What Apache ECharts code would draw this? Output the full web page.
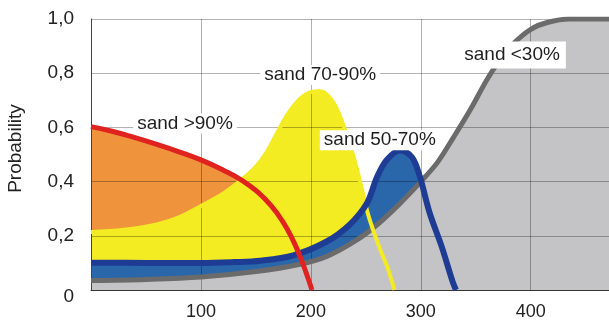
<!DOCTYPE html>
<html>
<head>
<meta charset="utf-8">
<script src="https://cdn.jsdelivr.net/npm/echarts@6/dist/echarts.min.js"></script>
<style>
  html, body { margin: 0; padding: 0; background: #ffffff; overflow: hidden; }
  #chart { width: 609px; height: 325px; }
</style>
</head>
<body>
<div id="chart"></div>
<script>
// ---- data (x = distance, y = probability) ----
const sandOver90 = [[0,0.603],[20,0.585],[40,0.562],[60,0.537],[80,0.51],[100,0.48],[120,0.443],[138,0.403],[152,0.36],[164,0.31],[174,0.255],[183,0.19],[190,0.125],[196,0.06],[201,0]];
const sand70to90 = [[0,0.214],[30,0.222],[60,0.242],[80,0.268],[100,0.31],[120,0.355],[138,0.41],[150,0.455],[160,0.51],[170,0.585],[180,0.655],[190,0.705],[200,0.73],[208,0.733],[216,0.715],[224,0.665],[232,0.58],[240,0.475],[246,0.38],[252,0.28],[258,0.205],[264,0.14],[270,0.08],[276,0]];
const sand50to70 = [[0,0.101],[50,0.10],[100,0.10],[130,0.103],[154,0.108],[184,0.128],[214,0.178],[235,0.24],[251,0.32],[260,0.415],[269,0.48],[281,0.515],[292,0.49],[299,0.42],[308,0.285],[319,0.16],[329,0.03],[332,0]];
const sandUnder30 = [[0,0.035],[50,0.039],[100,0.048],[150,0.068],[190,0.095],[215,0.125],[240,0.18],[260,0.24],[280,0.315],[300,0.40],[315,0.47],[330,0.565],[345,0.665],[360,0.775],[372,0.85],[385,0.912],[400,0.962],[415,0.987],[435,1.0],[473,1.0]];

const labelTexts = ['sand >90%', 'sand 70-90%', 'sand 50-70%', 'sand <30%'];
const labelAnchors = [[85.5,0.614],[208.5,0.793],[262.7,0.553],[383,0.867]];

const xTickValues = [100, 200, 300, 400];
const yAxisTitle = 'Probability';

// ---- chart ----
const FONT = '"Liberation Sans", Arial, sans-serif';
const chart = echarts.init(document.getElementById('chart'), null, { renderer: 'canvas' });

function fill(data, color, z, sm) {
  return { type: 'line', data, smooth: sm, showSymbol: false, silent: true, z,
           lineStyle: { width: 0, opacity: 0 }, areaStyle: { color, opacity: 1 } };
}
function stroke(data, color, width, z, sm) {
  return { type: 'line', data, smooth: sm, showSymbol: false, silent: true, z,
           lineStyle: { width, color, cap: 'butt' } };
}

const labelData = labelTexts.map((t, i) => ({
  value: labelAnchors[i], name: t,
  label: { padding: i === 3 ? [4, 6] : [1, 4, 0, 4] }
}));

chart.setOption({
  animation: false,
  backgroundColor: '#ffffff',
  grid: { left: 91, top: 19, width: 520, height: 271, show: false,
          containLabel: false, outerBoundsMode: 'none' },
  xAxis: {
    type: 'value', min: 0, max: 473, interval: 100, z: 5,
    axisLine: { show: true, lineStyle: { color: '#333', width: 1 } },
    axisTick: { show: false },
    axisLabel: { fontSize: 18, color: '#222', fontFamily: FONT, margin: 13,
                 formatter: v => xTickValues.indexOf(v) >= 0 ? String(v) : '' },
    splitLine: { show: true, lineStyle: { color: 'rgba(0,0,0,0.3)', width: 1 } }
  },
  yAxis: {
    type: 'value', min: 0, max: 1, interval: 0.2, z: 5,
    name: yAxisTitle, nameLocation: 'middle', nameGap: 66, nameRotate: 90,
    nameTextStyle: { fontSize: 19, color: '#222', fontFamily: FONT, padding: [0, 0, 0, 12] },
    axisLine: { show: true, lineStyle: { color: '#444', width: 1 } },
    axisTick: { show: false },
    axisLabel: { fontSize: 19, color: '#222', fontFamily: FONT, margin: 17,
                 formatter: v => v === 0 ? '{z|0}' : v.toFixed(1).replace('.', ','),
                 rich: { z: { fontSize: 19, color: '#222', fontFamily: FONT, padding: [14, 0, 0, 0] } } },
    splitLine: { show: true, lineStyle: { color: 'rgba(0,0,0,0.3)', width: 1 } }
  },
  series: [
    fill(sandOver90, '#ef943d', 1, 0.5),
    fill(sand70to90, '#f4ec22', 2, 0.35),
    fill(sand50to70, '#2a66aa', 3, 0.35),
    fill(sandUnder30, '#c4c4c6', 4, 0.35),
    stroke(sandUnder30, '#6b6b6b', 5, 6, 0.35),
    stroke(sand70to90, '#f4ec22', 4, 7, 0.35),
    stroke(sand50to70, '#1f3c94', 6, 8, 0.35),
    stroke(sandOver90, '#e1231f', 5, 9, 0.5),
    { type: 'scatter', data: labelData, symbolSize: 0, silent: true, z: 10,
      itemStyle: { opacity: 1 },
      label: { show: true, position: 'inside', formatter: p => p.name, opacity: 1,
               fontSize: 19, color: '#1e1e1e', fontFamily: FONT,
               backgroundColor: '#ffffff' } }
  ]
});
</script>
</body>
</html>
